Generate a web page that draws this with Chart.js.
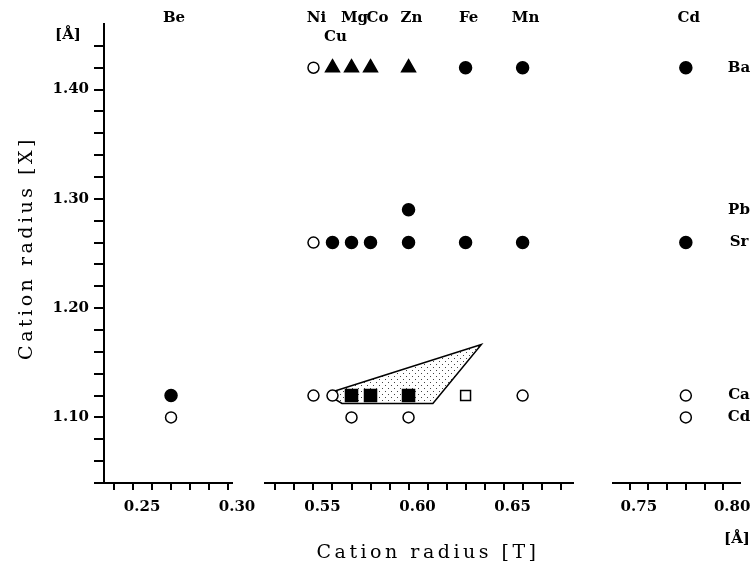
<!DOCTYPE html>
<html>
<head>
<meta charset="utf-8">
<title>Cation radius map</title>
<script src="https://cdn.jsdelivr.net/npm/chart.js@4.4.1/dist/chart.umd.min.js"></script>
<style>
  html, body { margin: 0; padding: 0; background: #fff; }
  #wrap { position: relative; width: 754px; height: 568px; }
  #wrap canvas { position: absolute; left: 0; top: 0; }
</style>
</head>
<body>
<div id="wrap">
  <canvas id="seg1" width="754" height="568"></canvas>
  <canvas id="seg2" width="754" height="568"></canvas>
  <canvas id="seg3" width="754" height="568"></canvas>
</div>
<script>
// T cations (x axis) and radii [Å]
const tCations = ['Be', 'Ni', 'Cu', 'Mg', 'Co', 'Zn', 'Fe', 'Mn', 'Cd'];
const tRadii   = [0.27, 0.55, 0.56, 0.57, 0.58, 0.60, 0.63, 0.66, 0.78];

// X cations (y axis) and radii [Å]
const xCations = ['Ba', 'Pb', 'Sr', 'Ca', 'Cd'];
const xRadii   = [1.42, 1.29, 1.26, 1.12, 1.10];

// marker per T cation in each X row ('' = nothing)
const rowBa = ['',     'open', 'tri',  'tri',  'tri', 'tri',  'dot',    'dot',  'dot'];
const rowPb = ['',     '',     '',     '',     '',    'dot',  '',       '',     ''];
const rowSr = ['',     'open', 'dot',  'dot',  'dot', 'dot',  'dot',    'dot',  'dot'];
const rowCa = ['dot',  'open', 'open', 'sq',   'sq',  'sq',   'opensq', 'open', 'open'];
const rowCd = ['open', '',     '',     'open', '',    'open', '',       '',     'open'];
const rows = [rowBa, rowPb, rowSr, rowCa, rowCd];

// shaded field (T radius, X radius)
const fieldT = [0.5600, 0.6383, 0.6128, 0.5650, 0.5615, 0.5600];
const fieldX = [1.1235, 1.1668, 1.1128, 1.1128, 1.1165, 1.1235];

// tick labels
const yTickLabels = ['1.10', '1.20', '1.30', '1.40'];
const xTickLabels = ['0.25', '0.30', '0.55', '0.60', '0.65', '0.75', '0.80'];

Chart.defaults.font.family = '"DejaVu Serif", serif';
Chart.defaults.color = '#000';

const tickFont = { size: 15, weight: 'bold' };

const markerStyle = {
    dot:    { pointStyle: 'circle',   radius: 6,   fill: '#000' },
    open:   { pointStyle: 'circle',   radius: 5.5, fill: '#fff' },
    tri:    { pointStyle: 'triangle', radius: 8,   fill: '#000' },
    sq:     { pointStyle: 'rect',     radius: 8.5, fill: '#000' },
    opensq: { pointStyle: 'rect',     radius: 7,   fill: '#fff' }
};

// stipple for the shaded field
function makeDots() {
    const c = document.createElement('canvas');
    c.width = 6; c.height = 6;
    const g = c.getContext('2d');
    g.fillStyle = '#444';
    g.fillRect(1, 1, 1, 1);
    g.fillRect(4, 4, 1, 1);
    return g.createPattern(c, 'repeat');
}

function markerDatasets(lo, hi) {
    return Object.keys(markerStyle).map(kind => {
        const s = markerStyle[kind];
        const pts = [];
        rows.forEach((row, i) => row.forEach((m, j) => {
            if (m === kind && tRadii[j] >= lo && tRadii[j] <= hi) {
                pts.push({ x: tRadii[j], y: xRadii[i] });
            }
        }));
        return {
            type: 'scatter',
            label: kind,
            data: pts,
            pointStyle: s.pointStyle,
            pointRadius: s.radius,
            pointHoverRadius: s.radius,
            pointBackgroundColor: s.fill,
            pointBorderColor: '#000',
            pointBorderWidth: 1.5,
            order: 0
        };
    });
}

// labels, titles
const labelPlugin = {
    id: 'cationLabels',
    afterDraw(chart, args, opts) {
        const { ctx, chartArea: a, scales: { x, y } } = chart;
        const nudge = { Co: 4 };
        ctx.save();
        ctx.fillStyle = '#000';
        ctx.font = 'bold 15px "DejaVu Serif"';
        ctx.textAlign = 'center';
        ctx.textBaseline = 'middle';
        tCations.forEach((name, j) => {
            const r = tRadii[j];
            if (r < x.min || r > x.max) return;
            const px = x.getPixelForValue(r) + 3 + (nudge[name] || 0);
            ctx.fillText(name, px, name === 'Cu' ? a.top + 13 : a.top - 6);
        });
        if (opts.rowNames) {
            xCations.forEach((name, i) => {
                ctx.fillText(name, a.right - 1, y.getPixelForValue(xRadii[i]));
            });
            ctx.fillText('[Å]', a.right - 3, a.bottom + 56);
        }
        if (opts.yTitle) {
            ctx.fillText('[Å]', a.left - 36, a.top + 11);
            ctx.font = '19px "DejaVu Serif"';
            ctx.letterSpacing = '3.5px';
            ctx.translate(27, 248);
            ctx.rotate(-Math.PI / 2);
            ctx.fillText('Cation radius [X]', 0, 0);
        }
        if (opts.xTitle) {
            ctx.font = '19px "DejaVu Serif"';
            ctx.letterSpacing = '3.5px';
            ctx.fillText('Cation radius [T]', 428, 553);
        }
        ctx.restore();
    }
};

const segments = [
    { id: 'seg1', min: 0.2347, max: 0.3021, from: 24, to: 30, padLeft: 0,   padRight: 522, yAxis: true },
    { id: 'seg2', min: 0.5245, max: 0.6865, from: 53, to: 68, padLeft: 265, padRight: 181, field: true, xTitle: true },
    { id: 'seg3', min: 0.7410, max: 0.8090, from: 75, to: 80, padLeft: 613, padRight: 14,  rowNames: true }
];

segments.forEach(seg => {
    const xTicks = [];
    for (let k = seg.from; k <= seg.to; k++) xTicks.push(k / 100);
    const yTicks = [];
    for (let k = 104; k <= 144; k += 2) yTicks.push(k / 100);

    const datasets = markerDatasets(seg.min, seg.max);
    if (seg.field) {
        datasets.push({
            type: 'line',
            label: 'field',
            data: fieldT.map((t, i) => ({ x: t, y: fieldX[i] })),
            borderColor: '#000',
            borderWidth: 1.5,
            backgroundColor: makeDots(),
            fill: 'shape',
            pointRadius: 0,
            tension: 0,
            order: 5
        });
    }

    new Chart(document.getElementById(seg.id), {
        type: 'scatter',
        data: { datasets },
        options: {
            responsive: false,
            animation: false,
            devicePixelRatio: 1,
            layout: { padding: { top: 24, bottom: 0, left: seg.padLeft, right: seg.padRight } },
            plugins: {
                legend: { display: false },
                tooltip: { enabled: false },
                cationLabels: { rowNames: !!seg.rowNames, yTitle: !!seg.yAxis, xTitle: !!seg.xTitle }
            },
            scales: {
                x: {
                    type: 'linear',
                    min: seg.min,
                    max: seg.max,
                    afterBuildTicks: s => { s.ticks = xTicks.map(v => ({ value: v })); },
                    afterFit: s => { s.height = 85; },
                    ticks: {
                        autoSkip: false,
                        maxRotation: 0,
                        padding: 8,
                        labelOffset: 9,
                        font: tickFont,
                        callback: v => {
                            const t = v.toFixed(2);
                            return xTickLabels.includes(t) ? t : '';
                        }
                    },
                    grid: { drawOnChartArea: false, drawTicks: true, tickLength: 7, color: '#000', lineWidth: 2 },
                    border: { display: true, color: '#000', width: 2 }
                },
                y: {
                    type: 'linear',
                    display: !!seg.yAxis,
                    min: 1.04,
                    max: 1.46,
                    afterBuildTicks: s => { s.ticks = yTicks.map(v => ({ value: v })); },
                    afterFit: s => { if (seg.yAxis) s.width = 104; },
                    ticks: {
                        padding: 5,
                        font: tickFont,
                        callback: v => {
                            const t = v.toFixed(2);
                            return yTickLabels.includes(t) ? t : '';
                        }
                    },
                    grid: { drawOnChartArea: false, drawTicks: true, tickLength: 10, color: '#000', lineWidth: 2 },
                    border: { display: true, color: '#000', width: 2 }
                }
            }
        },
        plugins: [labelPlugin]
    });
});
</script>
</body>
</html>
